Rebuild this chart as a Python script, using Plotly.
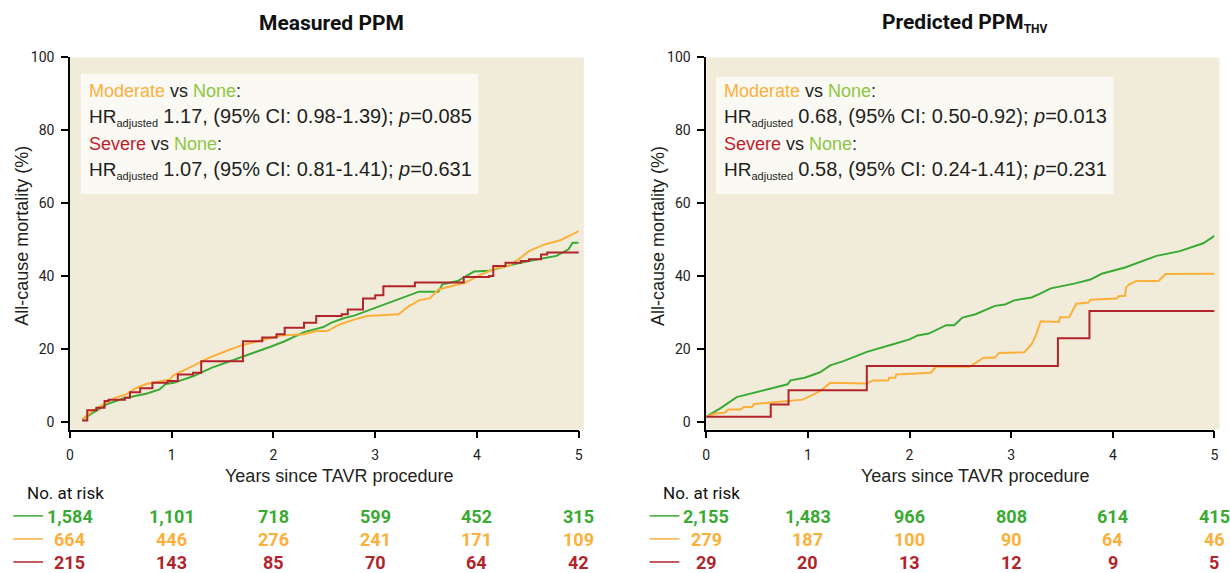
import plotly.graph_objects as go

# ---------------- data ----------------
years = [0, 1, 2, 3, 4, 5]

# Measured PPM (left)
meas_none_t = [0.12, 0.36, 0.52, 0.75, 0.88, 0.94, 1.02, 1.21, 1.39, 1.68, 1.99, 2.11, 2.30, 2.42, 2.49, 2.57,
               2.69, 2.80, 2.96, 3.08, 3.23, 3.43, 3.62, 3.66, 3.81, 3.97, 4.12, 4.36, 4.51, 4.78, 4.90, 4.94, 5.0]
meas_none_v = [0.8, 4.9, 6.5, 7.8, 9.0, 10.5, 10.8, 12.6, 14.9, 17.7, 20.9, 22.2, 24.7, 25.6, 26.1, 27.3,
               28.5, 29.3, 30.9, 32.1, 33.7, 35.8, 35.8, 37.8, 38.7, 41.3, 41.5, 43.3, 44.2, 45.6, 47.4, 49.2, 49.2]
meas_mod_t = [0.12, 0.24, 0.44, 0.55, 0.65, 0.75, 0.98, 1.02, 1.14, 1.37, 1.56, 1.68, 1.87, 2.07, 2.30, 2.42,
              2.53, 2.65, 2.80, 2.92, 3.23, 3.31, 3.43, 3.54, 3.62, 3.74, 3.89, 4.01, 4.16, 4.32, 4.43, 4.51,
              4.67, 4.82, 5.0]
meas_mod_v = [0.8, 3.5, 6.7, 7.6, 9.4, 10.5, 11.7, 12.9, 14.5, 17.7, 19.8, 21.0, 22.4, 23.8, 24.1, 25.0,
              25.0, 26.8, 28.2, 29.1, 29.6, 31.4, 33.4, 34.0, 36.4, 37.3, 38.3, 40.1, 41.9, 43.0, 45.1, 46.9,
              48.8, 49.9, 52.4]
meas_sev_t = [0.12, 0.17, 0.26, 0.34, 0.38, 0.54, 0.59, 0.69, 0.81, 0.96, 1.06, 1.21, 1.29, 1.52, 1.70, 1.87,
              1.89, 2.03, 2.11, 2.26, 2.30, 2.42, 2.67, 2.73, 2.88, 3.00, 3.08, 3.35, 3.39, 3.77, 3.87, 4.12,
              4.16, 4.28, 4.43, 4.51, 4.63, 4.69, 5.0]
meas_sev_v = [0.5, 3.3, 4.0, 5.8, 6.2, 6.7, 8.2, 9.3, 10.8, 11.3, 13.1, 13.6, 16.7, 16.7, 22.2, 22.2,
              23.2, 24.1, 25.9, 25.9, 27.3, 29.1, 29.6, 30.9, 33.9, 34.8, 37.3, 37.3, 38.3, 38.3, 39.8, 40.1,
              42.8, 43.7, 44.2, 44.7, 46.0, 46.5, 46.7]

# Predicted PPM_THV (right)
pred_none_t = [0.0, 0.145, 0.30, 0.49, 0.80, 0.83, 0.97, 1.12, 1.22, 1.35, 1.58, 1.83, 2.00, 2.08, 2.19, 2.36,
               2.44, 2.52, 2.65, 2.84, 2.94, 3.03, 3.20, 3.28, 3.39, 3.62, 3.78, 3.89, 4.12, 4.43, 4.66, 4.89, 5.0]
pred_none_v = [1.5, 3.95, 6.9, 8.3, 10.4, 11.5, 12.2, 13.7, 15.6, 16.75, 19.3, 21.3, 22.7, 23.8, 24.3, 26.6,
               26.6, 28.7, 29.6, 31.9, 32.3, 33.4, 34.2, 35.2, 36.7, 38.0, 39.1, 40.7, 42.4, 45.6, 46.9, 49.05, 51.1]
pred_mod_t = [0.0, 0.09, 0.18, 0.22, 0.34, 0.37, 0.45, 0.47, 0.64, 0.83, 0.95, 1.12, 1.22, 1.58, 1.64, 1.79,
              1.80, 1.86, 1.87, 2.21, 2.26, 2.59, 2.67, 2.73, 2.84, 2.88, 3.13, 3.20, 3.24, 3.26, 3.29, 3.47,
              3.48, 3.57, 3.64, 3.76, 3.78, 4.04, 4.06, 4.12, 4.13, 4.16, 4.23, 4.45, 4.52, 5.0]
pred_mod_v = [1.5, 2.4, 2.6, 3.5, 3.5, 4.2, 4.2, 5.0, 5.4, 5.96, 6.2, 8.5, 10.8, 10.6, 11.45, 11.45,
              12.2, 12.2, 13.1, 13.55, 15.2, 15.2, 16.75, 17.7, 17.7, 19.0, 19.2, 21.3, 23.6, 25.5, 27.7, 27.5,
              28.8, 28.8, 32.5, 32.8, 33.6, 33.9, 34.6, 34.6, 36.9, 37.8, 38.7, 38.7, 40.6, 40.7]
pred_sev_t = [0.0, 0.635, 0.81, 1.58, 3.46, 3.77, 5.0]
pred_sev_v = [1.5, 4.9, 8.8, 15.4, 23.0, 30.5, 30.5]

# numbers at risk
meas_risk_none = [1584, 1101, 718, 599, 452, 315]
meas_risk_mod = [664, 446, 276, 241, 171, 109]
meas_risk_sev = [215, 143, 85, 70, 64, 42]
pred_risk_none = [2155, 1483, 966, 808, 614, 415]
pred_risk_mod = [279, 187, 100, 90, 64, 46]
pred_risk_sev = [29, 20, 13, 12, 9, 5]

titles = ["Measured PPM", "Predicted PPM<sub><span style='font-size:12px'>THV</span></sub>"]
hr_text = [
    [("Moderate", "1.17, (95% CI: 0.98-1.39); <i>p</i>=0.085"), ("Severe", "1.07, (95% CI: 0.81-1.41); <i>p</i>=0.631")],
    [("Moderate", "0.68, (95% CI: 0.50-0.92); <i>p</i>=0.013"), ("Severe", "0.58, (95% CI: 0.24-1.41); <i>p</i>=0.231")],
]

# ---------------- style ----------------
W, H = 1230, 573
GREEN = "#3aaa35"
ORANGE = "#fbb03b"
RED = "#b1242a"
NONE_LBL = "#8dc63f"
SEV_LBL = "#be1e2d"
BG = "#f1ecda"
BOX = "#faf9f4"
COND = "Roboto, Liberation Sans, sans-serif"
REG = "Liberation Sans, Arial, sans-serif"


def px(x):
    return x / W


def py(y):
    # target pixel row -> paper fraction (small empirical correction for the capture)
    y_lay = (y - 7.4) / 0.9845
    return 1 - y_lay / H


Y_TOP, Y_BOT = 56.7, 428.3
panels = [(66.4, 578.5), (706.8, 1218.4)]

fig = go.Figure()

series = [
    [(meas_none_t, meas_none_v, GREEN, "linear"), (meas_mod_t, meas_mod_v, ORANGE, "linear"),
     (meas_sev_t, meas_sev_v, RED, "hv")],
    [(pred_none_t, pred_none_v, GREEN, "linear"), (pred_mod_t, pred_mod_v, ORANGE, "linear"),
     (pred_sev_t, pred_sev_v, RED, "hv")],
]
risks = [[meas_risk_none, meas_risk_mod, meas_risk_sev], [pred_risk_none, pred_risk_mod, pred_risk_sev]]

annotations = []
shapes = []
for i, (x0, x1) in enumerate(panels):
    xa = "x" if i == 0 else "x2"
    ya = "y" if i == 0 else "y2"
    for t, v, c, shape in series[i]:
        fig.add_trace(go.Scatter(x=t, y=v, mode="lines", line=dict(color=c, width=2, shape=shape),
                                 xaxis=xa, yaxis=ya, showlegend=False, hoverinfo="skip"))
    axis_common = dict(showgrid=False, zeroline=False, showline=True, linecolor="black", linewidth=1.5,
                       ticks="outside", ticklen=7, tickwidth=1.5, tickcolor="black",
                       tickfont=dict(family=COND, size=14, color="#222"))
    lay_x = dict(domain=[px(x0), px(x1)], range=[0, 5], tickvals=years, anchor=ya,
                 ticklabelstandoff=5, **axis_common)
    lay_y = dict(domain=[py(Y_BOT), py(Y_TOP)], range=[-2, 100], tickvals=[0, 20, 40, 60, 80, 100],
                 anchor=xa, ticklabelstandoff=4, **axis_common)
    if i == 0:
        fig.update_layout(xaxis=lay_x, yaxis=lay_y)
    else:
        fig.update_layout(xaxis2=lay_x, yaxis2=lay_y)

    # plot background
    shapes.append(dict(type="rect", xref=f"{xa} domain", yref=f"{ya} domain", x0=0, x1=1.01, y0=0, y1=1,
                       fillcolor=BG, line=dict(width=0), layer="below"))
    # HR box
    bx0 = x0 + 11 if i == 0 else x0 + 10
    shapes.append(dict(type="rect", xref="paper", yref="paper", x0=px(bx0), x1=px(bx0 + 400),
                       y0=py(193), y1=py(73 if i == 0 else 76), fillcolor=BOX, line=dict(width=0), layer="below"))
    tx = bx0 + 6
    rows_y = [90.5, 116.5, 143.5, 169.5]
    for k, (grp, hr) in enumerate(hr_text[i]):
        gcol = ORANGE if grp == "Moderate" else SEV_LBL
        annotations.append(dict(
            text=f"<span style='color:{gcol}'>{grp}</span> vs <span style='color:{NONE_LBL}'>None</span>:",
            x=px(tx), y=py(rows_y[2 * k]), xref="paper", yref="paper", xanchor="left", yanchor="middle",
            showarrow=False, font=dict(family=REG, size=18, color="#231f20")))
        annotations.append(dict(
            text=f"HR<sub><span style='font-size:11px'>adjusted</span></sub> <span style='font-size:20px'>{hr}</span>",
            x=px(tx), y=py(rows_y[2 * k + 1]), xref="paper", yref="paper", xanchor="left", yanchor="middle",
            showarrow=False, font=dict(family=REG, size=19, color="#231f20")))

    # title
    annotations.append(dict(text=f"<b>{titles[i]}</b>", x=px((x0 + x1) / 2 + (7 if i == 0 else 5)), y=py(22),
                            xref="paper", yref="paper", xanchor="center", yanchor="middle", showarrow=False,
                            font=dict(family=COND, size=21, color="#111")))
    # axis titles
    annotations.append(dict(text="Years since TAVR procedure", x=px((x0 + x1) / 2 + 15), y=py(475),
                            xref="paper", yref="paper", xanchor="center", yanchor="middle", showarrow=False,
                            font=dict(family=REG, size=18, color="#231f20")))
    annotations.append(dict(text="All-cause mortality (%)", x=px(x0 - 48.5), y=py(235), textangle=-90,
                            xref="paper", yref="paper", xanchor="center", yanchor="middle", showarrow=False,
                            font=dict(family=REG, size=18, color="#231f20")))
    # No. at risk
    annotations.append(dict(text="No. at risk", x=px(x0 - 5), y=py(492), xref="paper", yref="paper",
                            xanchor="center", yanchor="middle", showarrow=False,
                            font=dict(family=COND, size=17, color="#111")))
    row_y = [515.5, 538.5, 561.5]
    for r, (vals, col) in enumerate(zip(risks[i], [GREEN, ORANGE, RED])):
        shapes.append(dict(type="line", xref="paper", yref="paper", x0=px(x0 - 57), x1=px(x0 - 27),
                           y0=py(row_y[r] - 1), y1=py(row_y[r] - 1), line=dict(color=col, width=1.5)))
        for yr, n in zip(years, vals):
            annotations.append(dict(text=f"<b>{n:,}</b>", x=yr, xref=xa, y=py(row_y[r]), yref="paper",
                                    xanchor="center", yanchor="middle", showarrow=False,
                                    font=dict(family=COND, size=18, color=col)))

fig.update_layout(width=W, height=H, margin=dict(l=0, r=0, t=0, b=0), paper_bgcolor="white",
                  plot_bgcolor="rgba(0,0,0,0)", annotations=annotations, shapes=shapes, showlegend=False)
fig.write_html("out.html", config={"displayModeBar": False},
               post_script="document.body.style.margin='0';document.body.style.overflow='hidden';")
